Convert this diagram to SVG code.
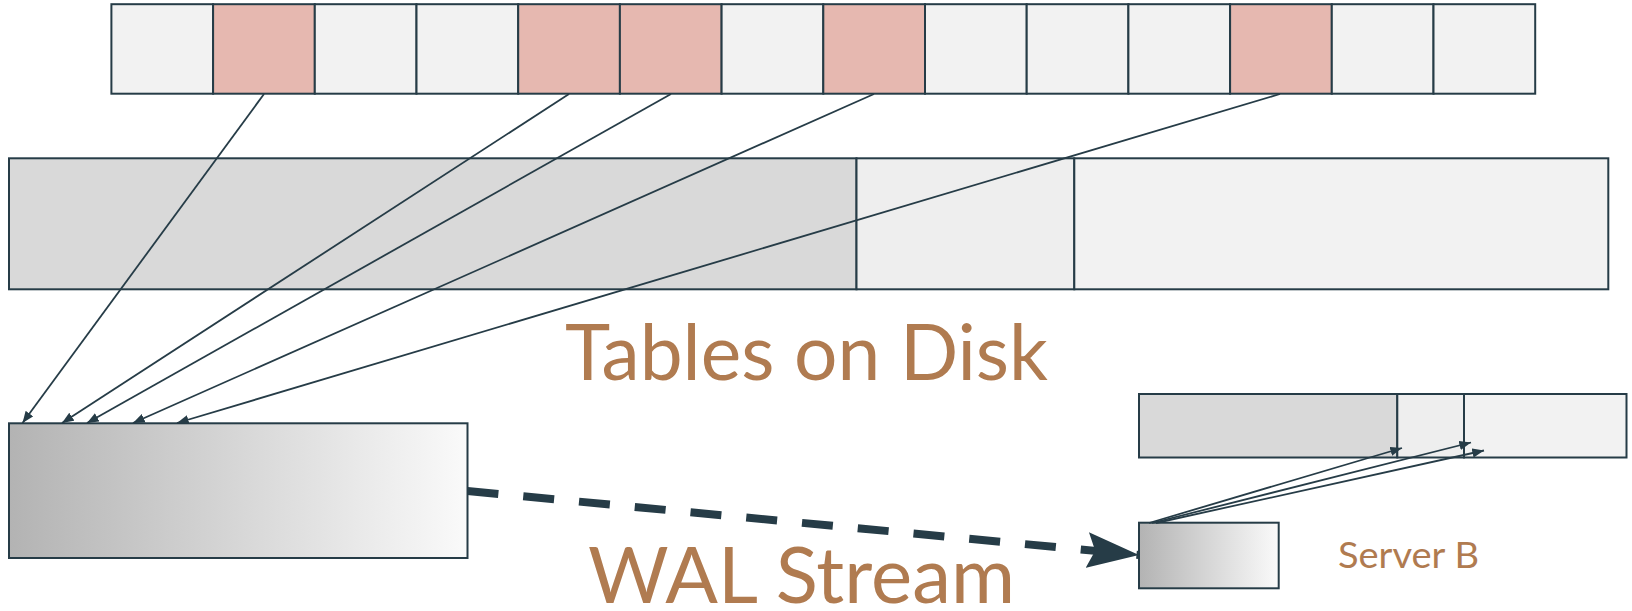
<svg xmlns="http://www.w3.org/2000/svg" width="1632" height="611" viewBox="0 0 1632 611">
<style>
.c{stroke:#263c47;stroke-width:2}
.w{fill:#f2f2f2}
.p{fill:#e6b8b0}
.d{fill:#d9d9d9}
.m{fill:#eeeeee}
.ln{stroke:#263c47;stroke-width:1.8;fill:none;marker-end:url(#ah)}
.lbl{font-family:Lato,"Noto Sans",sans-serif;fill:#b07b50}
</style>
<defs>
<marker id="ah" viewBox="0 0 10 8" refX="10" refY="4" markerWidth="6.5" markerHeight="5.2" markerUnits="strokeWidth" orient="auto">
<path d="M0,0 L10,4 L0,8 Z" fill="#263c47"/>
</marker>
<marker id="big" viewBox="0 0 52 36" refX="52" refY="18" markerWidth="52" markerHeight="36" markerUnits="userSpaceOnUse" orient="auto">
<path d="M0,0 L52,18 L0,36 L8,18 Z" fill="#263c47"/>
</marker>
<linearGradient id="g" x1="0" y1="0" x2="1" y2="0">
<stop offset="0" stop-color="#b3b3b3"/>
<stop offset="1" stop-color="#fafafa"/>
</linearGradient>
</defs>
<g id="memory">
<rect class="c w" x="111.4" y="4.2" width="101.7" height="89.5"/>
<rect class="c p" x="213.1" y="4.2" width="101.7" height="89.5"/>
<rect class="c w" x="314.8" y="4.2" width="101.7" height="89.5"/>
<rect class="c w" x="416.5" y="4.2" width="101.7" height="89.5"/>
<rect class="c p" x="518.2" y="4.2" width="101.7" height="89.5"/>
<rect class="c p" x="619.9" y="4.2" width="101.7" height="89.5"/>
<rect class="c w" x="721.6" y="4.2" width="101.7" height="89.5"/>
<rect class="c p" x="823.3" y="4.2" width="101.7" height="89.5"/>
<rect class="c w" x="925.0" y="4.2" width="101.7" height="89.5"/>
<rect class="c w" x="1026.7" y="4.2" width="101.7" height="89.5"/>
<rect class="c w" x="1128.4" y="4.2" width="101.7" height="89.5"/>
<rect class="c p" x="1230.1" y="4.2" width="101.7" height="89.5"/>
<rect class="c w" x="1331.8" y="4.2" width="101.7" height="89.5"/>
<rect class="c w" x="1433.5" y="4.2" width="101.7" height="89.5"/>
</g>
<g id="disk">
<rect class="c d" x="9" y="158.3" width="847.5" height="131"/>
<rect class="c m" x="856.5" y="158.3" width="217.8" height="131"/>
<rect class="c w" x="1074.3" y="158.3" width="534" height="131"/>
</g>
<g id="wal-a">
<rect class="c" fill="url(#g)" x="9" y="423.3" width="458.5" height="134.7"/>
</g>
<g id="disk-b">
<rect class="c d" x="1139" y="394" width="258.3" height="63.5"/>
<rect class="c m" x="1397.3" y="394" width="66.7" height="63.5"/>
<rect class="c w" x="1464" y="394" width="162.5" height="63.5"/>
</g>
<g id="wal-b">
<rect class="c" fill="url(#g)" x="1139" y="522.7" width="139.7" height="65.6"/>
</g>
<g id="connectors">
<line class="ln" x1="264" y1="94" x2="22.5" y2="423"/>
<line class="ln" x1="569" y1="94" x2="62" y2="423"/>
<line class="ln" x1="671" y1="94" x2="87" y2="423"/>
<line class="ln" x1="874" y1="94" x2="133" y2="423"/>
<line class="ln" x1="1280" y1="94" x2="177" y2="423"/>
<line class="ln" x1="1149" y1="523" x2="1402" y2="448"/>
<line class="ln" x1="1152" y1="523" x2="1471" y2="442.5"/>
<line class="ln" x1="1156" y1="523" x2="1484" y2="450.5"/>
<line x1="467.5" y1="491" x2="1139" y2="555" stroke="#263c47" stroke-width="8" stroke-dasharray="31 25" marker-end="url(#big)"/>
</g>
<g id="labels">
<text class="lbl" x="565" y="380" font-size="77" textLength="483" lengthAdjust="spacingAndGlyphs">Tables on Disk</text>
<text class="lbl" x="588" y="603" font-size="77" textLength="427" lengthAdjust="spacingAndGlyphs">WAL Stream</text>
<text class="lbl" x="1338" y="568" font-size="36" textLength="141" lengthAdjust="spacingAndGlyphs">Server B</text>
</g>
</svg>
